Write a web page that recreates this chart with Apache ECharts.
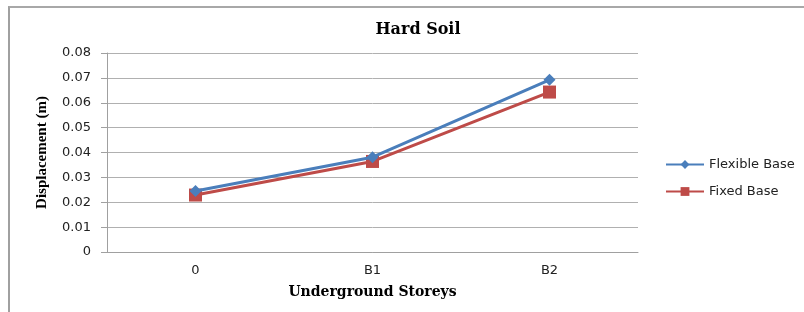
<!DOCTYPE html>
<html>
<head>
<meta charset="utf-8">
<script src="https://cdn.jsdelivr.net/npm/echarts@6/dist/echarts.min.js"></script>
<style>
  html, body { margin: 0; padding: 0; background: #fff; overflow: hidden; }
  #main { width: 804px; height: 312px; }
  .frame { position: absolute; left: 8px; top: 6px; width: 796px; height: 306px;
           border-left: 2px solid #a0a0a0; border-top: 2px solid #a8a8a8; border-right: 0; border-bottom: 0;
           box-sizing: border-box; pointer-events: none; }
</style>
</head>
<body>
<div id="main"></div>
<div class="frame"></div>
<script>
// data
var storeys = ['0', 'B1', 'B2'];
var flexibleBase = [0.0245, 0.0381, 0.0692];
var fixedBase = [0.0229, 0.0364, 0.0643];

var dom = document.getElementById('main');
var myChart = echarts.init(dom);
var option = {
    title: {
        text: 'Hard Soil',
        left: 413,
        top: 17,
        textAlign: 'center',
        textStyle: { fontFamily: 'DejaVu Serif', fontWeight: 'bold', fontSize: 16, color: '#000' }
    },
    grid: { left: 107, right: 166, top: 53, bottom: 60 },
    legend: {
        orient: 'vertical',
        left: 665,
        top: 158,
        padding: 0,
        itemWidth: 38,
        itemHeight: 11,
        itemGap: 14,
        textStyle: { fontFamily: 'DejaVu Sans', fontSize: 13, color: '#222' },
        data: ['Flexible Base', 'Fixed Base']
    },
    xAxis: {
        type: 'category',
        data: storeys,
        name: 'Underground Storeys',
        nameLocation: 'middle',
        nameGap: 33,
        nameTextStyle: { fontFamily: 'DejaVu Serif', fontWeight: 'bold', fontSize: 14, color: '#000' },
        axisLine: { lineStyle: { color: '#a0a0a0', width: 1 } },
        axisTick: { show: false },
        axisLabel: { margin: 12, fontFamily: 'DejaVu Sans', fontSize: 13, color: '#222' }
    },
    yAxis: {
        type: 'value',
        min: 0,
        max: 0.08,
        interval: 0.01,
        name: 'Displacement (m)',
        nameLocation: 'middle',
        nameRotate: 90,
        nameGap: 57,
        nameTextStyle: { fontFamily: 'Liberation Serif', fontWeight: 'bold', fontSize: 15, color: '#000' },
        axisLine: { show: true, lineStyle: { color: '#a0a0a0', width: 1 } },
        axisTick: { show: true, inside: false, length: 6, lineStyle: { color: '#a0a0a0' } },
        splitLine: { lineStyle: { color: '#b0b0b0', width: 1 } },
        axisLabel: {
            margin: 16, fontFamily: 'DejaVu Sans', fontSize: 13, color: '#222',
            formatter: function (v) { return v === 0 ? '0' : v.toFixed(2); }
        }
    },
    series: [
        {
            name: 'Flexible Base',
            type: 'line',
            data: flexibleBase,
            symbol: 'diamond',
            symbolSize: 12,
            lineStyle: { color: '#4a7ebb', width: 3 },
            itemStyle: { color: '#4a7ebb' },
            z: 3
        },
        {
            name: 'Fixed Base',
            type: 'line',
            data: fixedBase,
            symbol: 'rect',
            symbolSize: 13,
            lineStyle: { color: '#be4b48', width: 3 },
            itemStyle: { color: '#be4b48' },
            z: 2
        }
    ],
    animation: false
};
myChart.setOption(option, true);
</script>
</body>
</html>
